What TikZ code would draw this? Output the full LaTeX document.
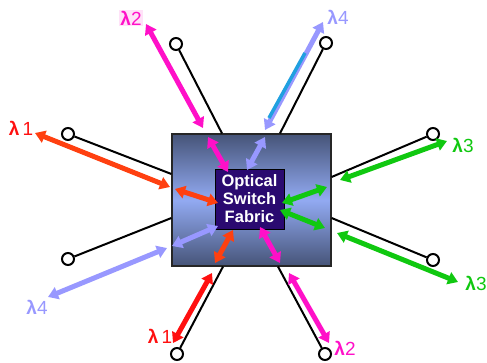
\documentclass[tikz,border=0pt]{standalone}
\usepackage{fontspec}
\setmainfont{Liberation Sans}
\usetikzlibrary{arrows.meta}
\definecolor{wmag}{HTML}{FF10C8}
\definecolor{worange}{HTML}{FF4010}
\definecolor{wred}{HTML}{FF1010}
\definecolor{wlav}{HTML}{9898FF}
\definecolor{wgreen}{HTML}{10C810}
\definecolor{wcyan}{HTML}{20A0E0}
\definecolor{boxdark}{HTML}{465478}
\definecolor{boxlight}{HTML}{92AAF2}
\definecolor{fabfill}{HTML}{2A0A70}
\newcommand{\lamb}[1]{\textbf{λ}#1}
\tikzset{
  swbox/.style={draw=black!85, line width=1.2pt, top color=boxdark,
                bottom color=boxdark, middle color=boxlight,
                minimum width=159pt, minimum height=132pt, inner sep=0pt},
  fabric/.style={draw=black, fill=fabfill, text=white, align=center,
                 font=\bfseries\fontsize{16.5}{18}\selectfont,
                 minimum width=69pt, minimum height=60pt, inner sep=0pt},
  port/.style={circle, draw, line width=2pt, fill=white,
               minimum size=12pt, inner sep=0pt},
  fiber/.style={line width=2pt},
  wave/.style={{Triangle[length=10pt,width=12.5pt]}-{Triangle[length=10pt,width=12.5pt]},
               line width=5pt},
  lam/.style={font=\fontsize{19}{20}\selectfont, inner sep=1pt},
}
\begin{document}
\begin{tikzpicture}[x=1pt,y=-1pt]
  \useasboundingbox (0,0) rectangle (487,363);
  % switch and fabric
  \node[swbox] (sw) at (251.5,200) {};
  \node[fabric] (fab) at (249.5,199) {Optical\\Switch\\Fabric};
  % fiber ports
  \node[port] (p1) at (176,44) {};
  \node[port] (p2) at (68,134) {};
  \node[port] (p3) at (326,43) {};
  \node[port] (p4) at (433,134) {};
  \node[port] (p5) at (433,260) {};
  \node[port] (p6) at (325,354) {};
  \node[port] (p7) at (177,354) {};
  \node[port] (p8) at (68,259) {};
  \draw[fiber] ([xshift=-29.5pt]sw.north) -- (p1);
  \draw[fiber] ([yshift=26pt]sw.west) -- (p2);
  \draw[fiber] ([xshift=28.5pt]sw.north) -- (p3);
  \draw[fiber] ([yshift=23pt]sw.east) -- (p4);
  \draw[fiber] ([yshift=-18pt]sw.east) -- (p5);
  \draw[fiber] ([xshift=26.5pt]sw.south) -- (p6);
  \draw[fiber] ([xshift=-28.5pt]sw.south) -- (p7);
  \draw[fiber] ([yshift=-18pt]sw.west) -- (p8);
  % wavelength labels
  \node[lam,text=wmag,fill=wmag!12] (l2a) at (131,18) {\lamb{2}};
  \node[lam,text=wred] (l1a) at (21,128) {\lamb{\,1}};
  \node[lam,text=wlav] (l4a) at (338,17) {\lamb{4}};
  \node[lam,text=wgreen] (l3a) at (463,145) {\lamb{3}};
  \node[lam,text=wgreen] (l3b) at (476,283) {\lamb{3}};
  \node[lam,text=wmag] (l2b) at (345,348) {\lamb{2}};
  \node[lam,text=wred] (l1b) at (160,336) {\lamb{\,1}};
  \node[lam,text=wlav] (l4b) at (37,307) {\lamb{4}};
  % outer wavelength arrows
  \coordinate (o1a) at (203,128); \coordinate (o1b) at (146,24);
  \coordinate (o2a) at (170,187); \coordinate (o2b) at (35,133);
  \coordinate (o3a) at (265,130); \coordinate (o3b) at (323,22);
  \coordinate (o4a) at (340,180); \coordinate (o4b) at (447,141);
  \coordinate (o5a) at (337,233); \coordinate (o5b) at (458,282);
  \coordinate (o6a) at (289,273); \coordinate (o6b) at (329,343);
  \coordinate (o7a) at (212,273); \coordinate (o7b) at (173,343);
  \coordinate (o8a) at (167,248); \coordinate (o8b) at (48,297);
  \draw[wave,wmag] (o1a) -- (o1b);
  \draw[wave,worange] (o2a) -- (o2b);
  \draw[wave,wlav] (o3a) -- (o3b);
  \coordinate (c1) at (305,53); \coordinate (c2) at (269,118);
  \draw[wcyan,line width=3.5pt] (c1) -- (c2);
  \draw[wave,wgreen] (o4a) -- (o4b);
  \draw[wave,wgreen] (o5a) -- (o5b);
  \draw[wave,wmag] (o6a) -- (o6b);
  \draw[wave,wred] (o7a) -- (o7b);
  \draw[wave,wlav] (o8a) -- (o8b);
  % inner wavelength arrows
  \coordinate (i1) at (208,137); \coordinate (i2) at (265,137);
  \coordinate (i3) at (175,189); \coordinate (i4) at (172,246);
  \coordinate (i5) at (215,263); \coordinate (i6) at (280,263);
  \coordinate (i7) at (327,187); \coordinate (i8) at (325,228);
  \draw[wave,wmag] (i1) -- (228,172);
  \draw[wave,wlav] (i2) -- (247,170);
  \draw[wave,worange] (i3) -- (218,203);
  \draw[wave,wlav] (i4) -- (218,226);
  \draw[wave,worange] (i5) -- (233,230);
  \draw[wave,wmag] (i6) -- (260,227);
  \draw[wave,wgreen] (i7) -- (282,203);
  \draw[wave,wgreen] (i8) -- (280,210);
\end{tikzpicture}
\end{document}
